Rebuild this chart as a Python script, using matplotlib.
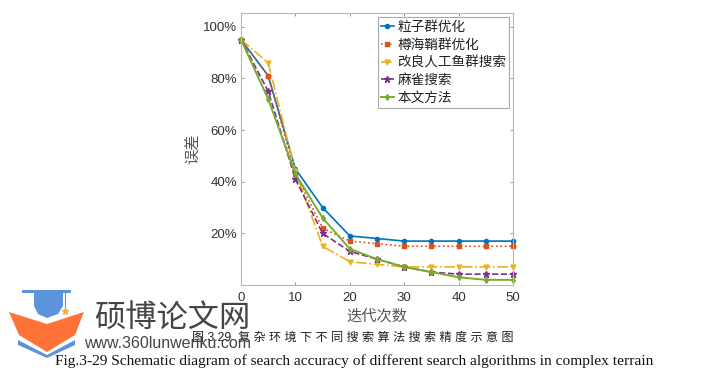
import matplotlib
matplotlib.use("Agg")
import matplotlib.pyplot as plt
from matplotlib.patches import Polygon, Rectangle

plt.rcParams['font.family'] = ['Liberation Sans', 'Noto Sans CJK SC', 'DejaVu Sans']

# data
iters = [0, 5, 10, 15, 20, 25, 30, 35, 40, 45, 50]
pso = [95, 81, 45, 30, 19, 18, 17, 17, 17, 17, 17]
whale = [95, 81, 43, 22, 17, 16, 15, 15, 15, 15, 15]
fish = [95, 86, 44, 15, 9, 8, 7, 7, 7, 7, 7]
sparrow = [95, 75, 41, 20, 13, 10, 7, 5, 4.2, 4.2, 4.2]
ours = [95, 72, 43, 26, 14, 10, 7, 5, 3, 2, 2]
names = ['粒子群优化', '樽海鞘群优化', '改良人工鱼群搜索', '麻雀搜索', '本文方法']
xticks = [0, 10, 20, 30, 40, 50]
yticks = [20, 40, 60, 80, 100]
ylabels = ['20%', '40%', '60%', '80%', '100%']

W, H = 703, 380
fig = plt.figure(figsize=(W / 100, H / 100), dpi=100)

# axes box in pixels: left 241, right 513, top 13, bottom 285
ax = fig.add_axes([241 / W, 1 - 285 / H, 272 / W, 272 / H])
ax.plot(iters, pso, color='#0072BD', ls='-', marker='o', ms=3, lw=1.2, label=names[0], clip_on=False)
ax.plot(iters, whale, color='#D95319', ls=':', marker='s', ms=3, lw=1.2, label=names[1], clip_on=False)
ax.plot(iters, fish, color='#EDB120', ls='-.', marker='v', ms=3.5, lw=1.2, label=names[2], clip_on=False)
ax.plot(iters, sparrow, color='#7E2F8E', ls='--', marker='*', ms=5, lw=1.2, label=names[3], clip_on=False)
ax.plot(iters, ours, color='#77AC30', ls='-', marker='d', ms=3, lw=1.4, label=names[4], clip_on=False)

ax.set_xlim(0, 50)
ax.set_ylim(0, 105.3)
ax.set_xticks(xticks)
ax.set_yticks(yticks)
ax.set_yticklabels(ylabels)
ax.tick_params(direction='in', top=True, right=True, length=2.5, width=0.7,
               color='#999999', labelcolor='#333333', labelsize=9.5, pad=3)
ax.tick_params(axis='x', pad=5)
for s in ax.spines.values():
    s.set_color('#b8b8b8')
    s.set_linewidth(0.8)
ax.set_xlabel('迭代次数', fontsize=11, color='#555555', labelpad=4)
ax.set_ylabel('误差', fontsize=11, color='#555555', labelpad=2)

leg = ax.legend(loc='upper right', bbox_to_anchor=(509 / W, 1 - 17 / H),
                bbox_transform=fig.transFigure, fontsize=9.8, fancybox=False,
                framealpha=1, edgecolor='#a8a8a8', borderpad=0.2, labelspacing=0.28,
                handlelength=0.95, handletextpad=0.25, borderaxespad=0)
leg.get_frame().set_linewidth(0.8)
for t in leg.get_texts():
    t.set_color('#222222')

# pixel overlay for the captions and the watermark
ov = fig.add_axes([0, 0, 1, 1], facecolor='none')
ov.set_xlim(0, W)
ov.set_ylim(H, 0)
ov.axis('off')

ov.text(353, 338, '图 3.29  复 杂 环 境 下 不 同 搜 索 算 法 搜 索 精 度 示 意 图', ha='center', va='center',
        fontsize=8.7, color='#222222')
ov.text(354, 361.5, 'Fig.3-29 Schematic diagram of search accuracy of different search algorithms in complex terrain',
        ha='center', va='center', fontsize=11.05, color='#111111', family='Liberation Serif')

# watermark logo
blue = '#5B93DC'
ov.add_patch(Rectangle((22, 290), 49, 3, color=blue, lw=0))
ov.add_patch(Polygon([(34, 293), (63, 293), (63, 306), (58, 314), (47, 318), (38, 314), (34, 306)],
                     color=blue, lw=0))
ov.plot([65, 65], [293, 310], color=blue, lw=0.8)
ov.plot([65], [311], marker='*', color='#F2B04A', ms=5)
ov.add_patch(Polygon([(9, 312), (47, 324), (84, 312), (75, 335), (47, 352), (19, 335)],
                     color='#FF7339', lw=0))
ov.add_patch(Polygon([(18, 340), (47, 355), (75, 340), (75, 345), (47, 358), (18, 345)],
                     color=blue, lw=0))
ov.text(172, 319, '硕博论文网', ha='center', va='center', fontsize=22.5, color='#444444')
ov.text(168, 343, 'www.360lunwenku.com', ha='center', va='center', fontsize=11.5, color='#444444')

fig.savefig('out.png', dpi=100)
